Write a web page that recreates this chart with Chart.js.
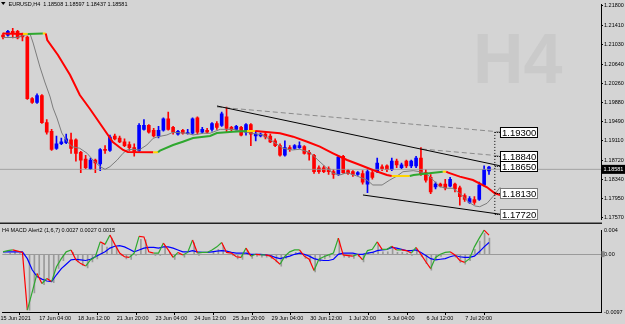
<!doctype html>
<html>
<head>
<meta charset="utf-8" />
<title>EURUSD H4</title>
<script src="https://cdn.jsdelivr.net/npm/chart.js@4.4.0/dist/chart.umd.min.js"></script>
<style>
body { margin:0; background:#d4d4d4; }
#wrap { position:relative; width:625px; height:324px; overflow:hidden; background:#d4d4d4; }
.pane { position:absolute; left:0; width:625px; }
.top { top:0; height:224px; }
.bottom { top:224px; height:100px; }
</style>
</head>
<body>
<div id="wrap">
  <div class="pane top"><canvas id="candles"></canvas></div>
  <div class="pane top"><canvas id="overlay"></canvas></div>
  <div class="pane bottom"><canvas id="macdBars"></canvas></div>
  <div class="pane bottom"><canvas id="macdLines"></canvas></div>
</div>
<script>
// candles, H4 bars from 16 Jun 2021 00:00 to 8 Jul 2021 16:00
var opens = [1.21219,1.21219,1.21295,1.21295,1.21219,1.21180,1.19951,1.19875,1.20009,1.19471,
  1.19299,1.18953,1.19049,1.19068,1.19126,1.19126,1.18876,1.18742,1.18550,1.18723,
  1.18646,1.18934,1.18915,1.19203,1.19164,1.19087,1.19030,1.18972,1.18915,1.19337,
  1.19414,1.19318,1.19203,1.19318,1.19548,1.19375,1.19241,1.19318,1.19250,1.19260,
  1.19567,1.19279,1.19318,1.19337,1.19452,1.19414,1.19587,1.19375,1.19337,1.19375,
  1.19279,1.19433,1.19203,1.19203,1.19241,1.19203,1.19107,1.19011,1.18819,1.18972,
  1.18953,1.18972,1.18991,1.18876,1.18819,1.18569,1.18569,1.18550,1.18492,1.18435,
  1.18799,1.18511,1.18492,1.18435,1.18454,1.18243,1.18473,1.18492,1.18588,1.18607,
  1.18531,1.18703,1.18569,1.18703,1.18607,1.18607,1.18761,1.18473,1.18377,1.18185,
  1.18243,1.18243,1.18204,1.18243,1.18166,1.18012,1.17878,1.17935,1.17935,1.18223,
  1.18508];
var highs = [1.21257,1.21315,1.21353,1.21315,1.21257,1.21199,1.19971,1.20047,1.20028,1.19529,
  1.19337,1.19203,1.19164,1.19241,1.19260,1.19145,1.18895,1.18819,1.18761,1.18742,
  1.18953,1.19011,1.19222,1.19241,1.19203,1.19145,1.19087,1.19049,1.19452,1.19529,
  1.19433,1.19356,1.19395,1.19567,1.19683,1.19395,1.19318,1.19337,1.19337,1.19567,
  1.19587,1.19375,1.19356,1.19471,1.19491,1.19683,1.19779,1.19395,1.19414,1.19395,
  1.19452,1.19452,1.19299,1.19260,1.19279,1.19241,1.19145,1.19049,1.19107,1.19011,
  1.19030,1.19087,1.19011,1.18915,1.18838,1.18607,1.18607,1.18588,1.18531,1.18819,
  1.18819,1.18531,1.18511,1.18492,1.18511,1.18531,1.18531,1.18761,1.18627,1.18627,
  1.18761,1.18742,1.18665,1.18723,1.18723,1.18799,1.18972,1.18531,1.18435,1.18281,
  1.18262,1.18339,1.18377,1.18262,1.18204,1.18051,1.17993,1.17993,1.18281,1.18607,
  1.18597];
var lows = [1.21142,1.21199,1.21161,1.21142,1.21103,1.19932,1.19855,1.19855,1.19452,1.19241,
  1.18915,1.18934,1.19030,1.19049,1.18857,1.18703,1.18473,1.18550,1.18531,1.18473,
  1.18511,1.18857,1.18895,1.19126,1.19068,1.18991,1.18915,1.18799,1.18895,1.19318,
  1.19260,1.19183,1.19164,1.19299,1.19318,1.19241,1.19222,1.19241,1.19241,1.19241,
  1.19241,1.19260,1.19260,1.19299,1.19337,1.19395,1.19279,1.19299,1.19318,1.19203,
  1.19222,1.19011,1.19107,1.19183,1.19145,1.19068,1.18991,1.18799,1.18799,1.18895,
  1.18934,1.18953,1.18838,1.18723,1.18454,1.18454,1.18473,1.18435,1.18358,1.18415,
  1.18454,1.18435,1.18396,1.18415,1.18243,1.18070,1.18339,1.18473,1.18511,1.18492,
  1.18511,1.18569,1.18550,1.18569,1.18569,1.18569,1.18415,1.18281,1.18051,1.18147,
  1.18185,1.18127,1.18185,1.18089,1.17820,1.17897,1.17859,1.17839,1.17916,1.18204,
  1.18437];
var closes = [1.21180,1.21295,1.21257,1.21161,1.21180,1.19951,1.19875,1.20009,1.19471,1.19279,
  1.18934,1.19049,1.19087,1.19145,1.18953,1.18857,1.18723,1.18569,1.18723,1.18665,
  1.18934,1.18915,1.19183,1.19145,1.19087,1.19011,1.18972,1.18895,1.19414,1.19414,
  1.19279,1.19203,1.19318,1.19548,1.19337,1.19279,1.19299,1.19260,1.19260,1.19548,
  1.19279,1.19337,1.19279,1.19452,1.19375,1.19644,1.19356,1.19337,1.19395,1.19222,
  1.19433,1.19241,1.19241,1.19241,1.19183,1.19087,1.19011,1.18819,1.18972,1.18934,
  1.19011,1.19011,1.18857,1.18838,1.18492,1.18492,1.18492,1.18492,1.18435,1.18780,
  1.18473,1.18454,1.18435,1.18473,1.18281,1.18492,1.18377,1.18665,1.18550,1.18531,
  1.18703,1.18627,1.18627,1.18607,1.18703,1.18761,1.18435,1.18319,1.18089,1.18243,
  1.18204,1.18166,1.18339,1.18147,1.17993,1.17935,1.17955,1.17878,1.18223,1.18531,
  1.18581];

// slow coloured moving average (bar index, price)
var maSlowX = [0,4.1,5.1,8.2,8.8,9.1,11.3,13.8,15.8,17.9,20.6,22.6,24.7,25.7,30.9,31.9,32.3,35,37,39.1,
  42.6,44,47.3,50.2,51.9,57,59.7,62.6,65.2,67.9,70.8,73.5,76.1,79,80,83.7,84.5,90.5,91.2,91.6,
  94,96.7,99.6,101.2,102.3,103.9];
var maSlowY = [1.21190,1.21182,1.21182,1.21190,1.21190,1.21065,1.20777,1.20393,1.20009,1.19740,1.19375,1.19107,1.18953,1.18915,1.18909,1.18909,1.18940,1.19049,1.19112,1.19183,
  1.19222,1.19279,1.19304,1.19318,1.19318,1.19274,1.19209,1.19112,1.19017,1.18890,1.18761,1.18665,1.18569,1.18473,1.18454,1.18454,1.18473,1.18537,1.18537,1.18517,
  1.18441,1.18377,1.18237,1.18122,1.18089,1.18089];

// fast grey moving average (bar index, price)
var maFastX = [0,2.9,4.5,5.6,6.2,7.6,8.6,9.7,10.3,11.1,12.1,13.2,14.2,15.8,17.3,18.5,20,21,22,23.5,
  24.7,25.5,26.7,28,29.6,30.9,31.9,33.7,35,37.9,39.1,41.2,42.6,44.7,47.3,49.4,51.4,53.5,55.6,57.6,
  59.5,61.1,63.2,64.8,66.3,67.9,69.3,70.8,72.8,74.9,76.1,78,79.6,81.1,82.3,84.4,85.8,87.2,88.5,89.9,
  91.4,92.6,94.4,95.7,97.1,98.1,99.6,100.8,102.3];
var maFastY = [1.21113,1.21113,1.21161,1.21174,1.21007,1.20547,1.20259,1.19971,1.19759,1.19567,1.19279,1.19112,1.19016,1.18986,1.18890,1.18761,1.18632,1.18582,1.18632,1.18761,
  1.18890,1.18953,1.18967,1.18953,1.19049,1.19178,1.19208,1.19241,1.19293,1.19274,1.19241,1.19274,1.19274,1.19350,1.19350,1.19304,1.19274,1.19241,1.19112,1.18986,
  1.18953,1.18967,1.18901,1.18761,1.18632,1.18506,1.18473,1.18517,1.18454,1.18377,1.18281,1.18281,1.18377,1.18454,1.18536,1.18556,1.18536,1.18492,1.18377,1.18248,
  1.18218,1.18218,1.18089,1.17960,1.17878,1.17864,1.17930,1.18057,1.18237];

// trend lines [bar index, price]
var trendUpper = [[44.03, 1.19798], [102.26, 1.18650]];
var trendDashA = [[44.03, 1.19779], [102.26, 1.19300]];
var trendDashB = [[86.2, 1.18972], [102.26, 1.18840]];
var trendLower = [[74.07, 1.18089], [102.26, 1.17720]];
var levelPrices = [1.19300, 1.18840, 1.18650, 1.18130, 1.17720];

// MACD (1,6,7)
var macdLine = [0,0.0002,0.0003,0.0001,-0.0001,-0.0094,-0.0065,-0.0035,-0.0051,-0.0043,
  -0.0048,-0.0024,-0.0011,0,0.0003,-0.0013,-0.0019,-0.0023,-0.0013,-0.0008,
  0.0016,0.0012,0.0027,0.0012,-0.0002,-0.0008,-0.0009,-0.0002,0.0025,0.0024,
  0,-0.0002,-0.0002,0.0014,0.0003,-0.0009,-0.0001,-0.0005,-0.0001,0.0019,
  -0.0002,-0.0001,-0.0001,0.0003,0.0008,0.0015,-0.0001,-0.0002,-0.0008,-0.0009,
  0.0006,-0.0007,-0.0004,-0.0005,-0.0005,-0.0007,-0.0013,-0.0020,-0.0007,0,
  0.0003,0.0003,-0.0007,-0.0012,-0.0030,-0.0012,-0.0008,-0.0005,-0.0002,0.0022,
  -0.0005,-0.0006,-0.0007,-0.0004,-0.0013,0.0002,0.0004,0.0016,0.0004,0.0004,
  0.0009,0.0003,0.0003,0.0002,-0.0002,0.0007,-0.0004,-0.0016,-0.0027,-0.0009,
  -0.0004,-0.0001,0,-0.0005,-0.0014,-0.0017,-0.0011,0.0008,0.0022,0.0035,
  0.0027];
var macdSignal = [0,0,0,0,0,-0.0011,-0.0029,-0.0040,-0.0044,-0.0047,
  -0.0048,-0.0037,-0.0027,-0.0020,-0.0013,-0.0012,-0.0013,-0.0014,-0.0012,-0.0008,
  -0.0004,0,0.0006,0.0009,0.0010,0.0008,0.0004,0,0.0003,0.0006,
  0.0007,0.0007,0.0006,0.0008,0.0008,0.0006,0.0003,0,0,0.0002,
  0,-0.0001,-0.0001,0,0.0001,0.0002,0.0001,-0.0001,-0.0002,-0.0002,
  -0.0002,-0.0004,-0.0004,-0.0004,-0.0005,-0.0006,-0.0009,-0.0011,-0.0009,-0.0007,
  -0.0004,-0.0002,-0.0004,-0.0007,-0.0011,-0.0013,-0.0014,-0.0014,-0.0012,-0.0004,
  -0.0002,-0.0002,-0.0002,-0.0004,-0.0004,-0.0002,-0.0001,0.0002,0.0003,0.0004,
  0.0007,0.0006,0.0004,0.0002,0.0002,0.0003,-0.0001,-0.0006,-0.0011,-0.0013,
  -0.0012,-0.0011,-0.0008,-0.0006,-0.0008,-0.0009,-0.0009,-0.0007,0,0.0008,
  0.0015];

var priceTicks = [1.21800,1.21410,1.21030,1.20640,1.20260,1.19880,1.19490,1.19110,1.18720,1.18340,1.17950,1.17570];
var macdTicks = [0.004, 0, -0.0097];
var macdTickLabels = ['0.004', '0.00', '-0.0097'];
var timeTickIdx = [-1,7,15,23,31,39,47,55,63,71,79,87,95];
var timeTickLabels = ['15 Jun 2021','17 Jun 04:00','18 Jun 12:00','21 Jun 20:00','23 Jun 04:00','24 Jun 12:00',
  '25 Jun 20:00','29 Jun 04:00','30 Jun 12:00','1 Jul 20:00','5 Jul 04:00','6 Jul 12:00','7 Jul 20:00'];

var FONT = 'Liberation Sans';
var xMin = -0.62, xMax = 123.05;
var priceMin = 1.17532, priceMax = 1.21833;
var last = closes.length - 1;

function pts(xs, ys) { return xs.map(function(x, i) { return {x: x, y: ys[i]}; }); }
function seg(a) { return a.map(function(p) { return {x: p[0], y: p[1]}; }); }
function candleColor(ctx) { var i = ctx.dataIndex; return closes[i] >= opens[i] ? '#0000ff' : '#ff0000'; }

var baseOpts = {responsive: true, maintainAspectRatio: false, animation: false,
  plugins: {legend: {display: false}, tooltip: {enabled: false}}};
var hiddenX = {type: 'linear', min: xMin, max: xMax, offset: false, display: false};
// invisible axis that keeps the same plot area on the overlay canvases
function ghostAxis(extra) {
  return Object.assign({type: 'linear', ticks: {display: false}, grid: {display: false}, border: {display: false}}, extra);
}

var wicks = opens.map(function(o, i) { return {x: i, y: [lows[i], highs[i]]}; });
var bodies = opens.map(function(o, i) { return {x: i, y: [o, closes[i]]}; });

var watermark = {
  id: 'watermark',
  beforeDatasetsDraw: function(chart) {
    var c = chart.ctx;
    c.save();
    c.font = 'bold 70px "' + FONT + '"';
    c.fillStyle = '#cacaca';
    c.textBaseline = 'alphabetic';
    c.fillText('H4', 473, 83);
    c.restore();
  }
};

// candles
new Chart('candles', {
  type: 'bar',
  data: {
    datasets: [
      {data: wicks, backgroundColor: candleColor, barThickness: 1, grouped: false, borderWidth: 0, borderSkipped: false},
      {data: bodies, backgroundColor: candleColor, barThickness: 3, minBarLength: 1, grouped: false, borderWidth: 0, borderSkipped: false}
    ]
  },
  options: Object.assign({}, baseOpts, {
    layout: {padding: 0},
    scales: {
      x: hiddenX,
      y: {type: 'linear', position: 'right', min: priceMin, max: priceMax,
        afterBuildTicks: function(s) { s.ticks = priceTicks.map(function(v) { return {value: v}; }); },
        afterFit: function(s) { s.width = 24; },
        border: {display: true, color: '#000', width: 1},
        grid: {drawOnChartArea: false, drawTicks: true, tickLength: 2, color: '#000'},
        ticks: {autoSkip: false, padding: 1, color: '#000', font: {family: FONT, size: 5.5},
          callback: function(v) { return v.toFixed(5); }}
      }
    }
  }),
  plugins: [watermark]
});

var overlayDecor = {
  id: 'overlayDecor',
  afterDraw: function(chart) {
    var c = chart.ctx, xs = chart.scales.x, ys = chart.scales.y;
    c.save();
    // title
    c.fillStyle = '#000';
    c.beginPath(); c.moveTo(1, 2); c.lineTo(5.5, 2); c.lineTo(3.25, 5); c.closePath(); c.fill();
    c.font = '5.5px "' + FONT + '"';
    c.textBaseline = 'middle';
    c.fillText('EURUSD,H4  ' + [opens[last], highs[last], lows[last], closes[last]].map(function(v) { return v.toFixed(5); }).join(' '), 8.5, 4.2);
    // price labels at the end of the lines
    var xd = xs.getPixelForValue(101.2), xb = xs.getPixelForValue(102.26) + 0.5;
    levelPrices.forEach(function(p, i) {
      var y = Math.round(ys.getPixelForValue(p)) + 0.5;
      c.strokeStyle = '#000'; c.lineWidth = 1; c.setLineDash([1, 1]);
      c.beginPath(); c.moveTo(xd, y); c.lineTo(xb, y); c.stroke();
      c.setLineDash([]);
      c.fillStyle = '#fff';
      c.fillRect(xb, y - 5, 37, 10);
      c.strokeStyle = i >= 3 ? '#7a7a7a' : '#000';
      c.strokeRect(xb, y - 5, 37, 10);
      c.fillStyle = '#000';
      c.font = '9.5px "' + FONT + '"';
      c.fillText(p.toFixed(5), xb + 1.5, y + 0.5);
    });
    // current price tag on the axis
    var yc = ys.getPixelForValue(closes[last]);
    c.fillStyle = '#000';
    c.fillRect(601, yc - 4.5, 24, 9);
    c.fillStyle = '#fff';
    c.font = '5.5px "' + FONT + '"';
    c.fillText(closes[last].toFixed(5), 603.5, yc + 0.3);
    // pane bottom frame
    c.fillStyle = '#222';
    c.fillRect(0, 222.5, 602, 1.5);
    c.restore();
  }
};

var lineBase = {pointRadius: 0, borderWidth: 1, tension: 0, fill: false};

// moving averages, trend lines and price line
new Chart('overlay', {
  type: 'line',
  data: {
    datasets: [
      Object.assign({}, lineBase, {data: seg(trendUpper), borderColor: '#000', order: 1}),
      Object.assign({}, lineBase, {data: seg(trendDashA), borderColor: '#8a8a8a', borderDash: [5, 3], order: 1}),
      Object.assign({}, lineBase, {data: seg(trendDashB), borderColor: '#8a8a8a', borderDash: [5, 3], order: 1}),
      Object.assign({}, lineBase, {data: seg(trendLower), borderColor: '#000', order: 1}),
      Object.assign({}, lineBase, {data: [{x: 101.2, y: levelPrices[0]}, {x: 101.2, y: levelPrices[4]}], borderColor: '#000', borderDash: [1, 2], order: 1}),
      Object.assign({}, lineBase, {data: pts(maSlowX, maSlowY), borderWidth: 2, order: 2,
        segment: {borderColor: function(ctx) {
          var d = ctx.p1.parsed.y - ctx.p0.parsed.y;
          if (Math.abs(d) < 1e-7) return '#ffd400';
          return d > 0 ? '#2fa82f' : '#ff0000';
        }}}),
      Object.assign({}, lineBase, {data: pts(maFastX, maFastY), borderColor: '#7c7c7c', order: 3}),
      Object.assign({}, lineBase, {data: [{x: xMin, y: closes[last]}, {x: xMax, y: closes[last]}], borderColor: 'rgba(150,150,150,0.8)', order: 6})
    ]
  },
  options: Object.assign({}, baseOpts, {
    layout: {padding: 0},
    scales: {
      x: hiddenX,
      y: ghostAxis({position: 'right', min: priceMin, max: priceMax, afterFit: function(s) { s.width = 24; }})
    }
  }),
  plugins: [overlayDecor]
});

var macdDecor = {
  id: 'macdDecor',
  afterDraw: function(chart) {
    var c = chart.ctx;
    c.save();
    c.fillStyle = '#000';
    c.font = '5.5px "' + FONT + '"';
    c.textBaseline = 'middle';
    c.fillText('H4 MACD Alert2 (1,6,7) ' + macdLine[last].toFixed(4) + ' ' + macdLine[last].toFixed(4) + ' ' + macdSignal[last].toFixed(4), 2, 6.5);
    c.fillStyle = '#8a8a8a';
    c.fillRect(601.5, chart.scales.y.getPixelForValue(0) - 3, 3, 6);
    c.restore();
  }
};

// MACD histogram with the axes
new Chart('macdBars', {
  type: 'bar',
  data: {
    datasets: [
      {data: macdLine.map(function(v, i) { return {x: i, y: v}; }), backgroundColor: '#9a9a9a', barThickness: 1, grouped: false, borderWidth: 0}
    ]
  },
  options: Object.assign({}, baseOpts, {
    layout: {padding: {top: 3}},
    scales: {
      x: {type: 'linear', min: xMin, max: xMax, offset: false,
        afterBuildTicks: function(s) { s.ticks = timeTickIdx.map(function(v) { return {value: v}; }); },
        afterFit: function(s) { s.height = 12; },
        border: {display: true, color: '#000', width: 1},
        grid: {drawOnChartArea: false, drawTicks: true, tickLength: 3, color: '#000'},
        ticks: {autoSkip: false, maxRotation: 0, minRotation: 0, align: 'start', padding: 0.5, color: '#000',
          font: {family: FONT, size: 5.5},
          callback: function(v, i) { return timeTickLabels[i]; }}
      },
      y: {type: 'linear', position: 'right', min: -0.0097, max: 0.004,
        afterBuildTicks: function(s) { s.ticks = macdTicks.map(function(v) { return {value: v}; }); },
        afterFit: function(s) { s.width = 24; },
        border: {display: true, color: '#000', width: 1},
        grid: {drawTicks: false, color: function(ctx) { return ctx.tick && ctx.tick.value === 0 ? '#9a9a9a' : 'rgba(0,0,0,0)'; }},
        ticks: {autoSkip: false, padding: 3, color: '#000', font: {family: FONT, size: 5.5},
          callback: function(v, i) { return macdTickLabels[i]; }}
      }
    }
  }),
  plugins: [macdDecor]
});

// MACD and signal lines
new Chart('macdLines', {
  type: 'line',
  data: {
    datasets: [
      Object.assign({}, lineBase, {data: macdLine.map(function(v, i) { return {x: i, y: v}; }), borderWidth: 1.2, order: 1,
        segment: {borderColor: function(ctx) { return ctx.p1.parsed.y >= ctx.p0.parsed.y ? '#2fa82f' : '#ff0000'; }}}),
      Object.assign({}, lineBase, {data: macdSignal.map(function(v, i) { return {x: i, y: v}; }), borderColor: '#0000ff', borderWidth: 1.2, order: 2})
    ]
  },
  options: Object.assign({}, baseOpts, {
    layout: {padding: {top: 3}},
    scales: {
      x: ghostAxis({min: xMin, max: xMax, offset: false, afterFit: function(s) { s.height = 12; }}),
      y: ghostAxis({position: 'right', min: -0.0097, max: 0.004, afterFit: function(s) { s.width = 24; }})
    }
  })
});
</script>
</body>
</html>
